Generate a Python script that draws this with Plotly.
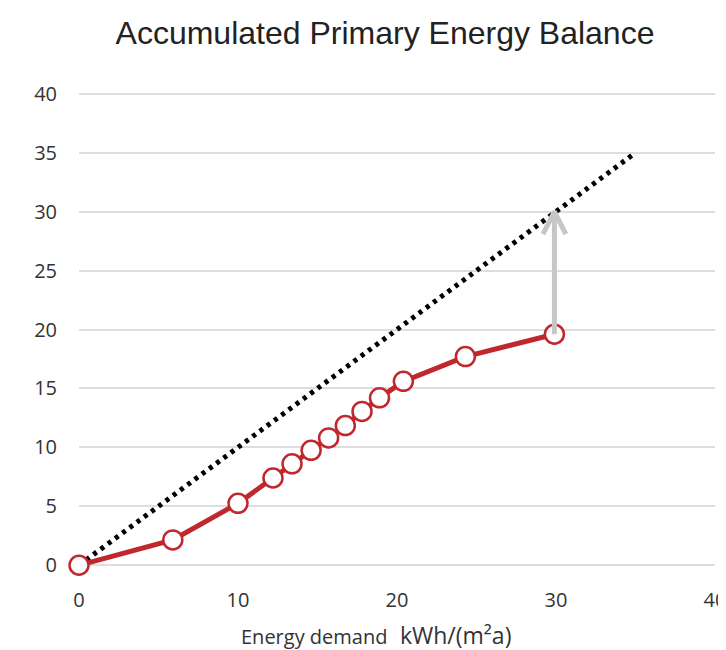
import plotly.graph_objects as go

# Data
demand = [0, 5.9, 10, 12.2, 13.4, 14.6, 15.7, 16.75, 17.8, 18.9, 20.4, 24.3, 29.9]
balance = [0, 2.15, 5.25, 7.4, 8.6, 9.75, 10.8, 11.85, 13.05, 14.2, 15.6, 17.7, 19.6]
ref_x = [0, 35]
ref_y = [0, 35]
arrow_x = 29.9
arrow_from = 19.6
arrow_to = 30
x_ticks = [0, 10, 20, 30, 40]
y_ticks = [0, 5, 10, 15, 20, 25, 30, 35, 40]

RED = "#c0282d"
GRAY = "#c6c6c6"
TXT = "#333333"

# page body has an 8px margin, so figure coords = page coords - 8
OFF = 8
W, H = 726 - OFF, 650 - OFF
PAD = 0.15            # small y-range padding so edge gridlines are drawn
PXU = (565 - 94) / 40  # pixels per y unit
PL, PR = 79 - OFF, 715 - OFF
PT, PB = 94 - OFF - PAD * PXU, 565 - OFF + PAD * PXU
PLOT_H = PB - PT

fig = go.Figure()

fig.add_trace(go.Scatter(
    x=ref_x, y=ref_y, mode="lines",
    line=dict(color="black", width=5, dash="4px,5px"),
    hoverinfo="skip", showlegend=False, cliponaxis=False))

fig.add_trace(go.Scatter(
    x=demand, y=balance, mode="lines+markers",
    line=dict(color=RED, width=5),
    marker=dict(size=19, color="white", line=dict(color=RED, width=2.5)),
    showlegend=False, cliponaxis=False))

# arrow shaft
fig.add_trace(go.Scatter(
    x=[arrow_x, arrow_x], y=[arrow_from, arrow_to - 0.15], mode="lines",
    line=dict(color=GRAY, width=5), hoverinfo="skip", showlegend=False))
# arrow head (chevron)
hx, hy = 0.72, 1.9
fig.add_trace(go.Scatter(
    x=[arrow_x - hx, arrow_x, arrow_x + hx],
    y=[arrow_to - hy, arrow_to, arrow_to - hy], mode="lines",
    line=dict(color=GRAY, width=5), hoverinfo="skip", showlegend=False))

fig.update_layout(
    width=W, height=H,
    margin=dict(l=PL, r=W - PR, t=PT, b=H - PB, autoexpand=False),
    paper_bgcolor="white", plot_bgcolor="white",
    title=dict(text="Accumulated Primary Energy Balance",
               x=(385 - OFF) / W, xanchor="center", xref="container",
               y=1 - (33 - OFF) / H, yanchor="middle", yref="container",
               font=dict(family="Liberation Sans, Arial", size=32, color="#222222")),
    font=dict(family="Open Sans", color=TXT),
)

# axis title placed at page y ~ 635
fig.add_annotation(
    text="<span style='font-size:20px'>Energy demand</span>&nbsp;&nbsp;&nbsp;&nbsp;<span style='font-size:23px'>kWh/(m²a)</span>",
    xref="paper", yref="paper", x=(376 - 79) / (715 - 79),
    y=-((635 - OFF) - PB) / PLOT_H,
    xanchor="center", yanchor="middle", showarrow=False,
    font=dict(family="Open Sans", color=TXT))

fig.update_xaxes(
    range=[0, 40], tickvals=x_ticks, showgrid=False, zeroline=False,
    showline=False, tickfont=dict(size=20, color=TXT),
    ticklabelstandoff=19, automargin=False, ticklabeloverflow="allow",
)
fig.update_yaxes(
    range=[-PAD, 40 + PAD], tickvals=y_ticks, showgrid=True, gridcolor="#dedede",
    gridwidth=2, zeroline=False,
    showline=False, tickfont=dict(size=20, color=TXT),
    ticklabelstandoff=21, automargin=False,
)

fig.write_html("out.html")
